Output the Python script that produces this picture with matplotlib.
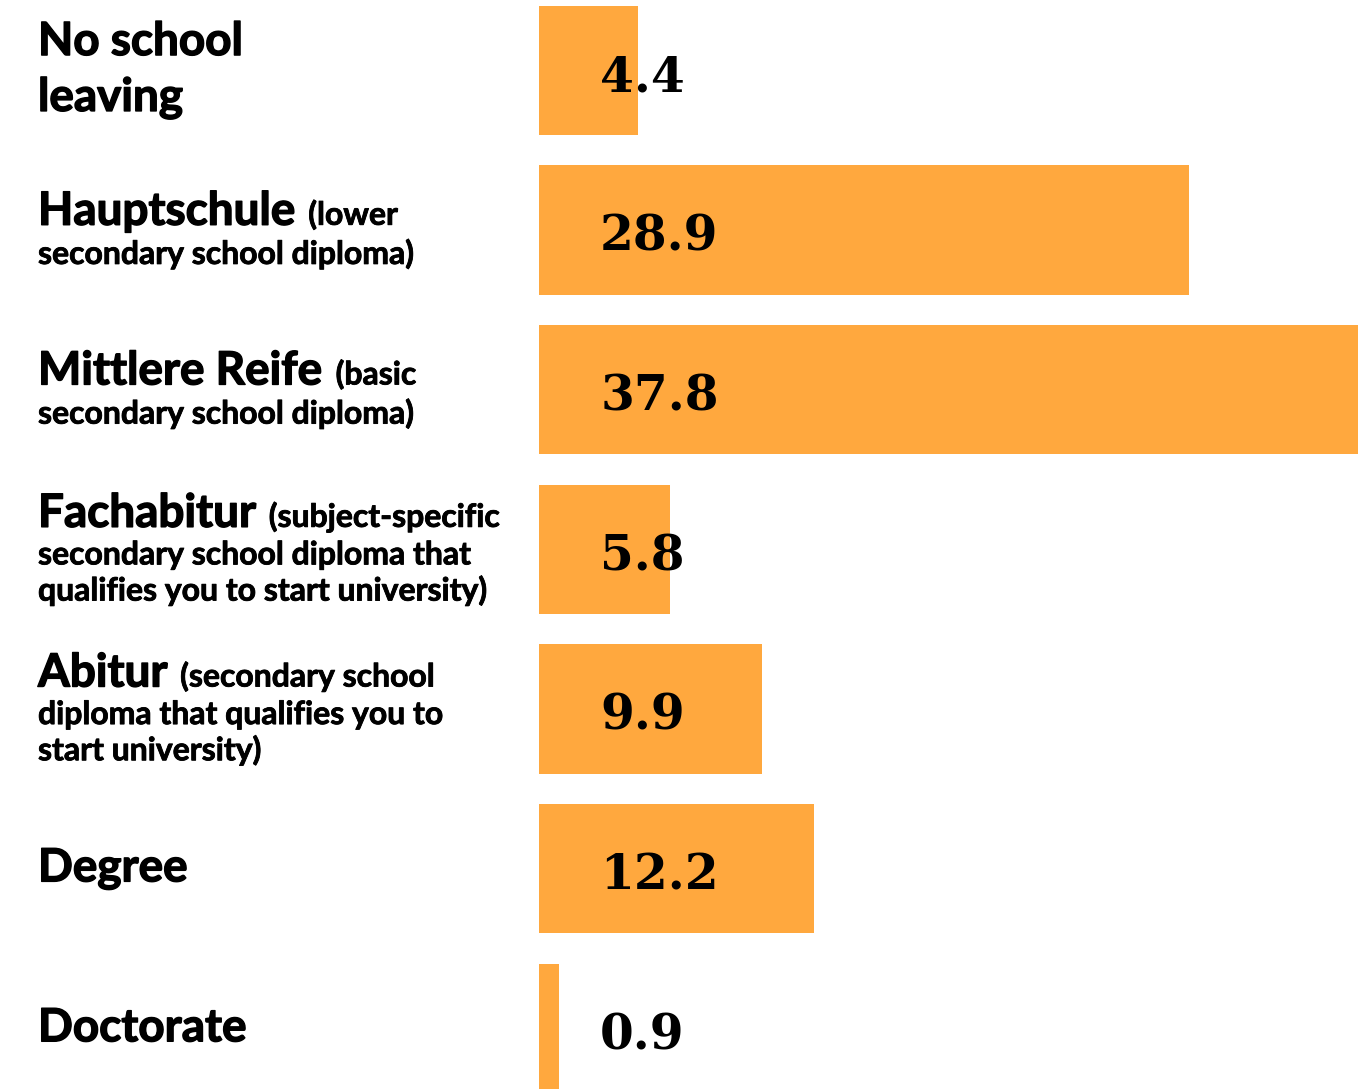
import matplotlib.pyplot as plt
import matplotlib.transforms as mtransforms
import matplotlib.patheffects as pe
from matplotlib.offsetbox import TextArea, HPacker, VPacker, AnnotationBbox

# share of population by highest school / academic qualification, in %
values = [4.4, 28.9, 37.8, 5.8, 9.9, 12.2, 0.9]
names = ["No school", "Hauptschule", "Mittlere Reife", "Fachabitur",
         "Abitur", "Degree", "Doctorate"]
# explanation lines, first one continues the name on the same line
notes = [
    ["leaving"],
    ["(lower", "secondary school diploma)"],
    ["(basic", "secondary school diploma)"],
    ["(subject-specific", "secondary school diploma that",
     "qualifies you to start university)"],
    ["(secondary school", "diploma that qualifies you to", "start university)"],
    [],
    [],
]

bar_color = "#FFA83E"
label_font = "Lato"
big = 33
small = 23

fig = plt.figure(figsize=(13.58, 10.89), dpi=100)
ax = fig.add_axes([539 / 1358, 0, 819 / 1358, 1])
y = list(range(len(values)))
ax.barh(y, values, height=0.81, color=bar_color, align="center")
ax.set_xlim(0, 36.4)
ax.set_ylim(6.38, -0.44)
ax.axis("off")

# value labels
for i, v in enumerate(values):
    ax.annotate(f"{v}", xy=(0, i), xytext=(44, -15), textcoords="offset points",
                ha="left", va="baseline", fontsize=35, fontweight="bold",
                family="DejaVu Serif", color="black")

trans = mtransforms.blended_transform_factory(fig.transFigure, ax.transData)
# slightly heavier strokes for the category labels
thick_big = [pe.withStroke(linewidth=1.0, foreground="black")]
thick_small = [pe.withStroke(linewidth=0.6, foreground="black")]

for i, name in enumerate(names):
    lines = notes[i]
    big_prop = dict(fontsize=big, fontweight="bold", family=label_font,
                    color="black", path_effects=thick_big)
    small_prop = dict(fontsize=small, fontweight="bold", family=label_font,
                      color="black", path_effects=thick_small)
    first = [TextArea(name, textprops=big_prop)]
    rest = []
    sep = 4
    if i == 0:
        rest = [TextArea(lines[0], textprops=big_prop)]
        sep = 10
    elif lines:
        first.append(TextArea(lines[0], textprops=small_prop))
        rest = [TextArea(t, textprops=small_prop) for t in lines[1:]]
    row1 = HPacker(children=first, align="baseline", pad=0, sep=9)
    box = VPacker(children=[row1] + rest, align="left", pad=0, sep=sep)
    ab = AnnotationBbox(box, (38 / 1358, i), xycoords=trans, box_alignment=(0, 0.5),
                        frameon=False, pad=0)
    ax.add_artist(ab)
    ab.set_clip_on(False)

fig.savefig("out.png", dpi=100)
